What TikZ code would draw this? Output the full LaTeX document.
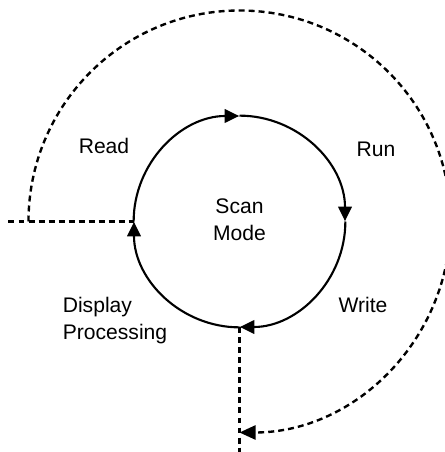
\documentclass[tikz,border=0pt]{standalone}
\usepackage{fontspec}
\setmainfont{Liberation Sans}
\usetikzlibrary{arrows.meta}

\begin{document}
\begin{tikzpicture}[
  cycle/.style={line width=1.2pt, -{Triangle[length=0.29cm, width=0.27cm]}},
  jump/.style={line width=1.35pt, dash pattern=on 3.4pt off 2.3pt},
  lbl/.style={font=\fontsize{12}{15.4}\selectfont, align=center}
]
  \useasboundingbox (-4.79,-4.61) rectangle (4.11,4.43);
  \clip (-4.79,-4.61) rectangle (4.11,4.43);
  % Scan cycle
  \node[circle, minimum size=4.22cm, inner sep=0pt] (scan) at (0,0) {};
  \node[lbl] (mode) at (0,0.04) {Scan\\Mode};
  \draw[cycle] (scan.west) arc[start angle=180, end angle=90, radius=2.11cm];
  \draw[cycle] (scan.north) arc[start angle=90, end angle=0, radius=2.11cm];
  \draw[cycle] (scan.east) arc[start angle=0, end angle=-90, radius=2.11cm];
  \draw[cycle] (scan.south) arc[start angle=-90, end angle=-180, radius=2.11cm];
  % Phase labels
  \node[lbl] (read) at (-2.71,1.51) {Read};
  \node[lbl] (run) at (2.73,1.44) {Run};
  \node[lbl] (write) at (2.47,-1.66) {Write};
  \node[lbl, align=left] (disp) at (-2.49,-1.99) {Display\\Processing};
  % Outer dashed path
  \coordinate (readin) at (-4.62,0);
  \coordinate (loopstart) at (-4.22,0);
  \coordinate (dispout) at (0,-4.75);
  \draw[jump] (readin) -- (scan.west);
  \draw[jump] (scan.south) -- (dispout);
  \draw[jump, -{Triangle[length=0.32cm, width=0.28cm]}] (loopstart)
    arc[start angle=180, end angle=-90, radius=4.22cm];
\end{tikzpicture}
\end{document}
